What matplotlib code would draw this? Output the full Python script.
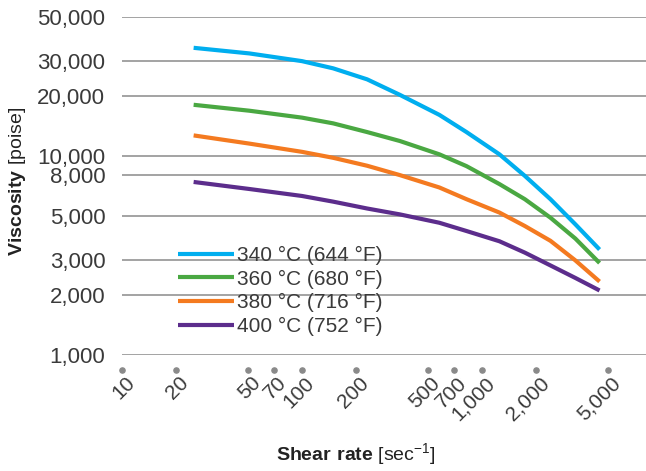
import matplotlib
matplotlib.use("Agg")
import matplotlib.pyplot as plt
import matplotlib.transforms as mtransforms
from matplotlib.ticker import FixedLocator, FixedFormatter, NullLocator

plt.rcParams["font.family"] = ["Liberation Sans", "DejaVu Sans"]
plt.rcParams["mathtext.fontset"] = "custom"
plt.rcParams["mathtext.rm"] = "Liberation Sans"
plt.rcParams["mathtext.bf"] = "Liberation Sans:bold"

# shear rate [1/s] at which the curves were read
shear_rate = [25, 51, 100, 149, 230, 350, 580, 820, 1250, 1730, 2400, 3300, 4500]

visc_340 = [35000, 32800, 30000, 27600, 24300, 20300, 16100, 13200, 10200, 7950, 6070, 4540, 3390]
visc_360 = [18100, 16900, 15600, 14600, 13200, 11900, 10200, 8900, 7230, 6070, 4900, 3850, 2900]
visc_380 = [12700, 11550, 10500, 9800, 8940, 8020, 6950, 6070, 5200, 4450, 3750, 2990, 2340]
visc_400 = [7410, 6830, 6300, 5900, 5450, 5090, 4620, 4200, 3730, 3270, 2820, 2440, 2110]

series_labels = ["340 °C (644 °F)", "360 °C (680 °F)", "380 °C (716 °F)", "400 °C (752 °F)"]
series_colors = ["#00aeef", "#4aa842", "#f47a20", "#5c2d8c"]

x_ticks = [10, 20, 50, 70, 100, 200, 500, 700, 1000, 2000, 5000]
x_ticklabels = ["10", "20", "50", "70", "100", "200", "500", "700", "1,000", "2,000", "5,000"]
y_ticks = [1000, 2000, 3000, 5000, 8000, 10000, 20000, 30000, 50000]
y_ticklabels = ["1,000", "2,000", "3,000", "5,000", "8,000", "10,000", "20,000", "30,000", "50,000"]

W, H = 646, 471
fig = plt.figure(figsize=(W / 100, H / 100), dpi=100)
ax = fig.add_axes([122 / W, 1 - 355 / H, 1 - 122 / W, (355 - 17) / H])

for vals, lab, col in zip([visc_340, visc_360, visc_380, visc_400], series_labels, series_colors):
    ax.plot(shear_rate, vals, color=col, lw=3.0, label=lab, solid_capstyle="butt",
            solid_joinstyle="round")

ax.set_xscale("log")
ax.set_yscale("log")
ax.set_xlim(10, 8150)
ax.set_ylim(1000, 50000)

ax.xaxis.set_major_locator(FixedLocator(x_ticks))
ax.xaxis.set_major_formatter(FixedFormatter(x_ticklabels))
ax.xaxis.set_minor_locator(NullLocator())
ax.yaxis.set_major_locator(FixedLocator(y_ticks))
ax.yaxis.set_major_formatter(FixedFormatter(y_ticklabels))
ax.yaxis.set_minor_locator(NullLocator())

ax.grid(axis="y", color="#a3a3a3", lw=1.4)
ax.set_axisbelow(True)
for s in ax.spines.values():
    s.set_visible(False)

txt_col = "#3a3a3a"
ax.tick_params(axis="y", length=0, pad=12, labelsize=16, labelcolor=txt_col)
ax.tick_params(axis="x", length=0, pad=18, labelsize=15, labelcolor=txt_col)
shift = mtransforms.ScaledTranslation(7 / 72, 0, fig.dpi_scale_trans)
for lbl in ax.get_xticklabels():
    lbl.set_rotation(45)
    lbl.set_ha("right")
    lbl.set_va("center")
    lbl.set_rotation_mode("anchor")
    lbl.set_transform(lbl.get_transform() + shift)

# dots used as x tick marks
trans = mtransforms.blended_transform_factory(ax.transData, ax.transAxes)
ax.scatter(x_ticks, [-15 / 338] * len(x_ticks), s=14, color="#8a8a8a",
           transform=trans, clip_on=False, zorder=3)

leg = ax.legend(loc="upper left", bbox_to_anchor=(178 / W, 1 - 246 / H),
                bbox_transform=fig.transFigure, frameon=False, fontsize=15,
                handlelength=2.7, handletextpad=0.15, labelspacing=0.22,
                borderpad=0, borderaxespad=0)
for t in leg.get_texts():
    t.set_color(txt_col)

fig.text(18 / W, 1 - 181 / H, r"$\bf{Viscosity}$ [poise]", rotation=90,
         ha="center", va="center", fontsize=14, color="#222222")
fig.text(356 / W, 1 - 455 / H, r"$\bf{Shear\ rate}$ [sec$^{-1}$]",
         ha="center", va="center", fontsize=14, color="#222222")

fig.savefig("out.png", dpi=100)
